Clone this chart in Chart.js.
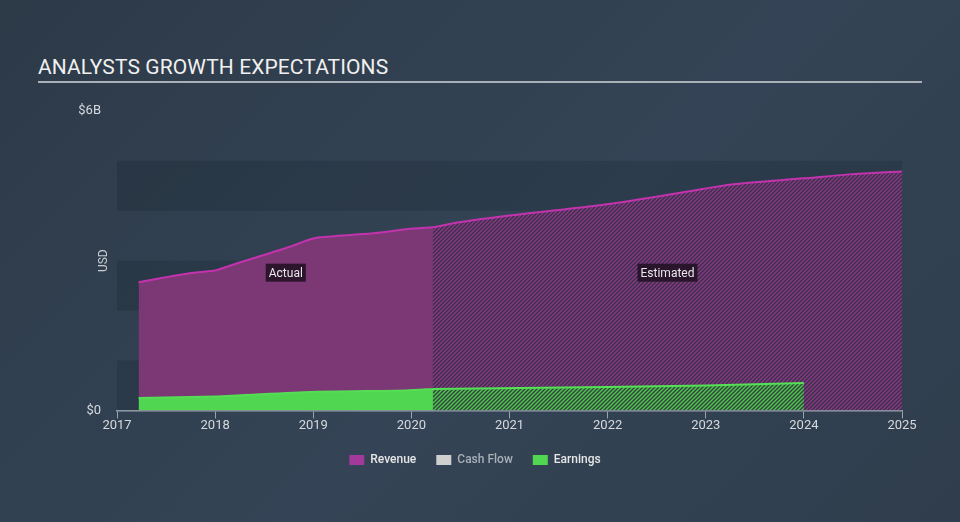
<!DOCTYPE html>
<html>
<head>
<meta charset="utf-8">
<script src="https://cdn.jsdelivr.net/npm/chart.js@4.4.1/dist/chart.umd.min.js"></script>
<style>
    html, body { margin: 0; padding: 0; }
    body {
        width: 960px; height: 522px; overflow: hidden;
        background: linear-gradient(135deg, #2d3a48 0%, #344456 55%, #2f3d4c 100%);
        font-family: Roboto, "Noto Sans", sans-serif;
        position: relative;
    }
    .title {
        position: absolute; left: 38px; top: 55px;
        color: #f0f0f0; font-size: 21px; letter-spacing: 0.1px;
    }
    .rule {
        position: absolute; left: 38px; top: 81px; width: 884px; height: 2px;
        background: #a9b0b8;
    }
    #wrap { position: absolute; left: 0; top: 0; width: 960px; height: 522px; }
</style>
</head>
<body>
<div class="title">ANALYSTS GROWTH EXPECTATIONS</div>
<div class="rule"></div>
<div id="wrap"><canvas id="myChart" width="960" height="522"></canvas></div>
<script>
// values in billions USD, x in fractional years
const revenueActualYears  = [2017.22, 2017.74, 2018.01, 2018.15, 2018.76, 2018.97, 2019.07, 2019.61, 2019.95, 2020.22];
const revenueActualValues = [2.57, 2.75, 2.81, 2.90, 3.28, 3.43, 3.47, 3.55, 3.63, 3.67];
const revenueEstYears  = [2020.22, 2020.49, 2020.90, 2021.99, 2022.77, 2023.28, 2024.00, 2024.46, 2025.00];
const revenueEstValues = [3.67, 3.77, 3.88, 4.13, 4.37, 4.53, 4.65, 4.73, 4.79];
const earningsActualYears  = [2017.22, 2018.01, 2018.97, 2019.95, 2020.22];
const earningsActualValues = [0.25, 0.28, 0.37, 0.40, 0.43];
const earningsEstYears  = [2020.22, 2021.99, 2023.00, 2024.00];
const earningsEstValues = [0.43, 0.47, 0.50, 0.55];
const xTicks = [2017, 2018, 2019, 2020, 2021, 2022, 2023, 2024, 2025];
const yTickLabels = { 0: "$0", 6: "$6B" };
const legendItems = [
    { text: "Revenue", color: "#a3399b", font: "#e6e6e6" },
    { text: "Cash Flow", color: "#cfcfcf", font: "#a9b0b8" },
    { text: "Earnings", color: "#52d552", font: "#e6e6e6" }
];

function toPoints(xs, ys) {
    return xs.map((x, i) => ({ x: x, y: ys[i] }));
}

// diagonal hatch pattern
function hatch(base, stripe) {
    const c = document.createElement("canvas");
    c.width = 4; c.height = 4;
    const g = c.getContext("2d");
    g.fillStyle = base;
    g.fillRect(0, 0, 4, 4);
    g.strokeStyle = stripe;
    g.lineWidth = 1.3;
    g.beginPath();
    g.moveTo(0, 4); g.lineTo(4, 0);
    g.moveTo(-1, 1); g.lineTo(1, -1);
    g.moveTo(3, 5); g.lineTo(5, 3);
    g.stroke();
    return g.createPattern(c, "repeat");
}

// alternating bands behind the chart, one per $1B
const bandsPlugin = {
    id: "bands",
    beforeDatasetsDraw(chart) {
        const ctx = chart.ctx, y = chart.scales.y, a = chart.chartArea;
        ctx.save();
        ctx.fillStyle = "rgba(20, 30, 40, 0.22)";
        for (let v = 0; v < 5; v += 2) {
            const top = y.getPixelForValue(v + 1), bot = y.getPixelForValue(v);
            ctx.fillRect(a.left, top, a.right - a.left, bot - top);
        }
        ctx.restore();
    }
};

// USD title and Actual / Estimated tags
const labelsPlugin = {
    id: "tags",
    afterDatasetsDraw(chart) {
        const ctx = chart.ctx, x = chart.scales.x, y = chart.scales.y, a = chart.chartArea;
        ctx.save();
        ctx.font = "12px Roboto, sans-serif";
        ctx.fillStyle = "#c9ced4";
        ctx.textAlign = "center";
        ctx.textBaseline = "middle";
        ctx.translate(a.left - 13, y.getPixelForValue(3));
        ctx.rotate(-Math.PI / 2);
        ctx.fillText("USD", 0, 0);
        ctx.restore();

        const split = revenueActualYears[revenueActualYears.length - 1];
        const tags = [
            { text: "Actual", x: (revenueActualYears[0] + split) / 2 },
            { text: "Estimated", x: (split + revenueEstYears[revenueEstYears.length - 1]) / 2 }
        ];
        ctx.save();
        ctx.font = "12px Roboto, sans-serif";
        ctx.textAlign = "center";
        ctx.textBaseline = "middle";
        tags.forEach(t => {
            const px = x.getPixelForValue(t.x), py = y.getPixelForValue(2.76);
            const w = ctx.measureText(t.text).width + 6;
            ctx.fillStyle = "rgba(35, 18, 38, 0.9)";
            ctx.fillRect(px - w / 2, py - 9, w, 18);
            ctx.fillStyle = "#e8e8e8";
            ctx.fillText(t.text, px, py + 1);
        });
        ctx.restore();
    }
};

const ctx = document.getElementById("myChart").getContext("2d");
const myChart = new Chart(ctx, {
    type: "line",
    data: {
        datasets: [
            {
                label: "Earnings",
                data: toPoints(earningsActualYears, earningsActualValues),
                borderColor: "#55de55",
                backgroundColor: "#50d650",
                borderWidth: 2,
                fill: "origin",
                pointRadius: 0,
                tension: 0.2
            },
            {
                label: "Earnings est",
                data: toPoints(earningsEstYears, earningsEstValues),
                borderColor: "#55e055",
                backgroundColor: hatch("#33473f", "#4fc94f"),
                borderWidth: 2,
                fill: "origin",
                pointRadius: 0,
                tension: 0.2
            },
            {
                label: "Revenue",
                data: toPoints(revenueActualYears, revenueActualValues),
                borderColor: "#c233ad",
                backgroundColor: "#7b3875",
                borderWidth: 2,
                fill: "origin",
                pointRadius: 0,
                tension: 0.3
            },
            {
                label: "Revenue est",
                data: toPoints(revenueEstYears, revenueEstValues),
                borderColor: "#c233ad",
                backgroundColor: hatch("#3c2f4a", "#8a3a87"),
                borderWidth: 2,
                fill: "origin",
                pointRadius: 0,
                tension: 0.3
            }
        ]
    },
    options: {
        responsive: false,
        animation: false,
        layout: { padding: { left: 48, right: 58, top: 111, bottom: 46 } },
        plugins: {
            tooltip: { enabled: false },
            legend: {
                position: "bottom",
                labels: {
                    boxWidth: 15,
                    boxHeight: 10,
                    padding: 20,
                    font: { family: "Roboto, sans-serif", size: 12, weight: "500" },
                    generateLabels: () => legendItems.map(l => ({
                        text: l.text,
                        fillStyle: l.color,
                        strokeStyle: l.color,
                        lineWidth: 0,
                        fontColor: l.font,
                        hidden: false
                    }))
                }
            }
        },
        scales: {
            x: {
                type: "linear",
                min: xTicks[0],
                max: xTicks[xTicks.length - 1],
                afterBuildTicks: axis => { axis.ticks = xTicks.map(v => ({ value: v })); },
                ticks: {
                    color: "#d6dade",
                    font: { family: "Roboto, sans-serif", size: 13 },
                    padding: 0,
                    maxRotation: 0,
                    callback: v => String(v)
                },
                grid: { drawOnChartArea: false, color: "#9aa4ae", tickLength: 8 },
                border: { color: "#9aa4ae", width: 1.5 }
            },
            y: {
                min: 0,
                max: 6,
                afterFit: axis => { axis.width = 69; },
                ticks: {
                    stepSize: 1,
                    color: "#d6dade",
                    font: { family: "Roboto, sans-serif", size: 13 },
                    padding: 16,
                    callback: v => yTickLabels[v] || ""
                },
                grid: { display: false, drawTicks: false },
                border: { display: false }
            }
        }
    },
    plugins: [bandsPlugin, labelsPlugin]
});
</script>
</body>
</html>
